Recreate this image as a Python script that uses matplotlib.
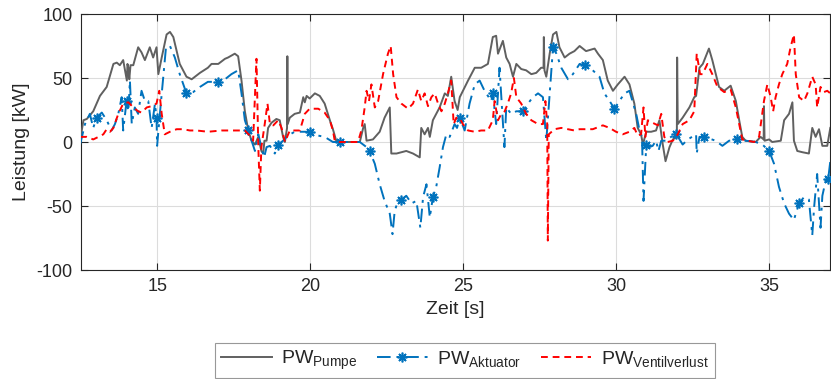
import numpy as np
import matplotlib
matplotlib.use("Agg")
import matplotlib.pyplot as plt

# ---------------- data ----------------
pumpe_t = [12.47, 12.58, 12.69, 12.90, 13.12, 13.34, 13.56, 13.67, 13.77, 13.88, 14.00, 14.02, 14.05, 14.08, 14.12,
           14.21, 14.37, 14.48, 14.59, 14.75, 14.86, 14.97, 15.03, 15.14, 15.30, 15.41, 15.52, 15.73, 15.95, 16.12,
           16.39, 16.65, 16.77, 16.99, 17.21, 17.31, 17.53, 17.64, 17.75, 17.86, 17.97, 18.08, 18.19, 18.30, 18.40,
           18.46, 18.50, 18.57, 18.62, 18.73, 18.89, 19.00, 19.11, 19.17, 19.24, 19.25, 19.26, 19.33, 19.49, 19.66,
           19.77, 19.82, 19.88, 19.98, 20.15, 20.31, 20.47, 20.64, 20.74, 20.86, 21.62, 21.73, 21.78, 21.84, 22.05,
           22.27, 22.43, 22.60, 22.65, 22.82, 23.14, 23.36, 23.58, 23.63, 23.74, 23.85, 23.91, 24.01, 24.23, 24.40,
           24.50, 24.61, 24.72, 24.82, 24.89, 25.16, 25.38, 25.59, 25.81, 25.97, 26.08, 26.14, 26.30, 26.41, 26.52,
           26.63, 26.74, 26.90, 27.06, 27.23, 27.39, 27.55, 27.63, 27.64, 27.66, 27.72, 27.83, 27.94, 28.05, 28.15,
           28.32, 28.48, 28.64, 28.81, 29.02, 29.30, 29.41, 29.57, 29.73, 29.90, 30.06, 30.28, 30.44, 30.60, 30.71,
           30.82, 30.88, 30.99, 31.15, 31.31, 31.42, 31.53, 31.62, 31.75, 31.86, 31.99, 32.00, 32.02, 32.18, 32.40,
           32.56, 32.62, 32.73, 32.84, 33.04, 33.15, 33.37, 33.54, 33.75, 33.92, 34.03, 34.13, 34.24, 34.57, 34.73,
           34.83, 34.84, 34.86, 35.01, 35.11, 35.39, 35.50, 35.66, 35.77, 35.82, 35.93, 36.10, 36.31, 36.42, 36.53,
           36.64, 36.75, 36.91, 37.01]
pumpe_p = [1, 17, 18, 24, 36, 43, 61, 62, 60, 64, 48, 61, 58, 49, 60,
           60, 74, 70, 64, 74, 66, 74, 53, 66, 84, 86, 82, 61, 51, 49,
           54, 58, 61, 61, 65, 66, 69, 67, 48, 24, 9, 1, -2, 4, -7,
           -9, 1, 1, 11, 15, 18, 17, 4, 0, 11, 67, 14, 19, 22, 23,
           35, 31, 36, 34, 38, 36, 30, 17, 10, 0, 0, 11, 14, 1, 2,
           8, 19, 27, -9, -9, -7, -9, -12, 11, 6, 11, 4, 17, 27, 38,
           36, 51, 32, 25, 35, 48, 58, 58, 61, 82, 83, 69, 79, 66, 61,
           51, 61, 57, 56, 53, 54, 58, 58, 82, 56, 51, 69, 84, 86, 74,
           66, 69, 71, 75, 71, 73, 69, 64, 48, 40, 45, 51, 45, 30, 11,
           6, -2, 8, 8, 9, 17, -2, -15, -4, 2, 4, 66, 14, 19, 27,
           35, 36, 58, 61, 73, 64, 43, 40, 44, 32, 17, 4, 1, 0, 4,
           2, 28, 1, 2, 0, 1, 17, 22, 31, 1, -7, -8, -9, 11, 4,
           10, -3, -3, 11]

aktuator_t = [12.47, 12.63, 12.79, 12.90, 13.01, 13.18, 13.34, 13.50, 13.61, 13.72, 13.83, 13.88, 13.99, 14.05, 14.10,
              14.16, 14.26, 14.37, 14.48, 14.59, 14.70, 14.81, 14.92, 14.97, 14.99, 15.08, 15.19, 15.28, 15.41, 15.57,
              15.73, 15.95, 16.17, 16.39, 16.65, 16.99, 17.21, 17.42, 17.64, 17.75, 17.86, 17.97, 18.08, 18.19, 18.30,
              18.40, 18.49, 18.57, 18.68, 18.84, 18.95, 19.11, 19.27, 19.49, 19.71, 19.98, 20.26, 20.47, 20.74, 20.96,
              21.29, 21.62, 21.84, 21.94, 22.11, 22.27, 22.43, 22.60, 22.69, 22.76, 22.87, 22.98, 23.14, 23.31, 23.47,
              23.60, 23.69, 23.80, 23.91, 24.01, 24.12, 24.23, 24.34, 24.45, 24.56, 24.72, 24.80, 24.89, 25.05, 25.21,
              25.38, 25.54, 25.70, 25.92, 25.97, 26.08, 26.19, 26.35, 26.41, 26.57, 26.74, 26.96, 27.12, 27.28, 27.45,
              27.61, 27.72, 27.83, 27.94, 28.05, 28.21, 28.43, 28.59, 28.81, 28.97, 29.24, 29.46, 29.62, 29.79, 29.95,
              30.11, 30.28, 30.44, 30.55, 30.66, 30.77, 30.85, 30.90, 30.99, 31.09, 31.20, 31.31, 31.39, 31.48, 31.64,
              31.80, 31.97, 32.08, 32.18, 32.35, 32.62, 32.64, 32.73, 32.89, 33.26, 33.48, 33.70, 33.97, 34.24, 34.57,
              34.79, 35.01, 35.17, 35.33, 35.50, 35.66, 35.82, 35.88, 35.99, 36.15, 36.31, 36.42, 36.48, 36.58, 36.69,
              36.75, 36.86, 36.94, 37.01]
aktuator_p = [-2, 14, 22, 11, 19, 23, 17, 9, 14, 22, 35, 9, 32, 24, 48,
              14, 27, 22, 40, 32, 32, 11, 30, 19, -3, 22, 51, 74, 75, 66,
              53, 38, 39, 43, 47, 47, 49, 53, 56, 38, 17, 9, 1, -7, 6,
              -4, -12, -4, -3, -9, -2, 1, 5, 8, 8, 8, 5, 4, 0, 0,
              0, 0, -4, -7, -17, -33, -46, -56, -72, -54, -46, -45, -42, -48, -46,
              -67, -43, -33, -59, -43, -35, -20, -4, 6, 4, 14, 11, 19, 9, 30,
              45, 48, 40, 32, 38, 14, 58, -4, 27, 22, 24, 24, 30, 35, 38,
              35, 1, 38, 74, 69, 58, 49, 53, 61, 60, 56, 51, 38, 32, 26,
              32, 38, 40, 31, 22, 9, 4, -46, -2, -4, -3, 1, -7, 1, 1,
              4, 6, 2, -2, 2, 6, -9, 4, 4, 1, -3, 1, 2, 1, 0,
              -2, -7, -17, -35, -48, -56, -61, -56, -48, -43, -45, -73, -51, -25, -67,
              -42, -30, -29, -15]
aktuator_marker_t = [13, 14, 15, 16, 17, 18, 19, 20, 21, 22, 23, 24, 25, 26, 27, 28, 29, 30, 31, 32, 33, 34, 35, 36, 37]

ventil_t = [12.47, 12.69, 12.90, 13.07, 13.23, 13.34, 13.45, 13.56, 13.72, 13.88, 14.05, 14.21, 14.37, 14.48, 14.65,
            14.81, 14.97, 15.06, 15.14, 15.24, 15.41, 15.63, 15.84, 16.06, 16.28, 16.65, 17.10, 17.64, 17.86, 18.02,
            18.13, 18.24, 18.30, 18.35, 18.40, 18.51, 18.60, 18.68, 18.79, 18.95, 19.06, 19.17, 19.33, 19.49, 19.66,
            19.82, 19.98, 20.26, 20.47, 20.64, 20.74, 20.80, 20.96, 21.29, 21.56, 21.67, 21.78, 21.84, 21.92, 22.00,
            22.11, 22.22, 22.38, 22.54, 22.63, 22.71, 22.82, 22.98, 23.20, 23.36, 23.52, 23.63, 23.74, 23.85, 23.96,
            24.07, 24.18, 24.29, 24.40, 24.50, 24.61, 24.69, 24.78, 24.88, 24.99, 25.16, 25.38, 25.59, 25.81, 25.97,
            26.03, 26.14, 26.25, 26.36, 26.46, 26.57, 26.66, 26.74, 26.90, 27.06, 27.23, 27.45, 27.61, 27.69, 27.75,
            27.77, 27.80, 27.99, 28.21, 28.43, 28.64, 28.81, 29.24, 29.57, 29.79, 30.00, 30.22, 30.44, 30.60, 30.71,
            30.82, 30.90, 30.96, 31.04, 31.20, 31.37, 31.48, 31.58, 31.69, 31.86, 32.02, 32.18, 32.40, 32.56, 32.64,
            32.75, 32.83, 32.99, 33.15, 33.32, 33.54, 33.75, 33.92, 34.03, 34.13, 34.30, 34.52, 34.68, 34.84, 34.95,
            35.06, 35.14, 35.22, 35.33, 35.44, 35.60, 35.71, 35.82, 35.88, 35.99, 36.15, 36.26, 36.42, 36.53, 36.58,
            36.69, 36.80, 36.91, 37.01]
ventil_p = [4, 4, 2, 4, 6, 10, 8, 11, 22, 30, 31, 27, 24, 23, 27,
            28, 30, 40, 22, 6, 8, 10, 10, 9, 9, 8, 9, 9, 9, 5,
            1, 65, -4, -38, -4, 14, 30, 14, 13, 17, 11, 0, 9, 9, 9,
            22, 26, 26, 23, 17, 9, 1, 0, 0, 0, 9, 27, 40, 32, 45,
            27, 32, 53, 69, 75, 53, 35, 30, 26, 30, 41, 32, 38, 28, 35,
            38, 30, 24, 30, 38, 48, 14, 19, 19, 14, 9, 8, 9, 9, 17,
            32, 17, 22, 24, 30, 38, 50, 35, 30, 22, 17, 14, 14, 32, 14,
            -77, 6, 10, 11, 10, 9, 10, 10, 13, 11, 8, 6, 8, 11, 5,
            6, 27, 4, 17, 15, 13, 22, 4, 0, 1, 6, 14, 17, 24, 69,
            53, 53, 61, 53, 43, 39, 41, 27, 14, 2, 1, 0, 4, 32, 45,
            35, 24, 35, 45, 53, 61, 74, 84, 53, 35, 32, 38, 51, 45, 27,
            43, 39, 40, 38]

x_ticks = [15, 20, 25, 30, 35]
y_ticks = [-100, -50, 0, 50, 100]
labels = [r'PW$_{\mathrm{Pumpe}}$', r'PW$_{\mathrm{Aktuator}}$', r'PW$_{\mathrm{Ventilverlust}}$']

# ---------------- style ----------------
plt.rcParams['font.family'] = ['Liberation Sans', 'DejaVu Sans']
plt.rcParams['mathtext.fontset'] = 'custom'
plt.rcParams['mathtext.rm'] = 'Liberation Sans'
plt.rcParams['mathtext.it'] = 'Liberation Sans'
plt.rcParams['mathtext.bf'] = 'Liberation Sans'
plt.rcParams['axes.unicode_minus'] = False

txt = '#262626'
fig = plt.figure(figsize=(8.31, 3.79), dpi=100)
ax = fig.add_axes([81/831, 1-270/379, (830-81)/831, (270-14)/379])

ax.plot(pumpe_t, pumpe_p, color='#606060', lw=1.4, label=labels[0], zorder=3)
at = np.array(aktuator_t)
mk_idx = sorted(set(int(np.argmin(np.abs(at - (m - 0.03)))) for m in aktuator_marker_t))
ax.plot(aktuator_t, aktuator_p, color='#0072BD', lw=1.4, ls=(0, (7, 3, 1.5, 3)),
        marker=(8, 2, 0), markersize=7, markeredgewidth=1.2, markevery=mk_idx,
        label=labels[1], zorder=4)
ax.plot(ventil_t, ventil_p, color='#FF0000', lw=1.4, ls=(0, (3.5, 2.5)), label=labels[2], zorder=5)

ax.set_xlim(12.5, 37)
ax.set_ylim(-100, 100)
ax.set_xticks(x_ticks)
ax.set_yticks(y_ticks)
ax.grid(True, color='#dcdcdc', lw=0.8)
ax.set_axisbelow(True)
for s in ax.spines.values():
    s.set_color(txt)
    s.set_linewidth(0.8)
ax.tick_params(direction='in', length=5, width=0.8, colors=txt, labelsize=13,
               top=True, right=True, labelcolor=txt, pad=6)
ax.set_xlabel('Zeit [s]', fontsize=14, color=txt, labelpad=4)
ax.set_ylabel('Leistung [kW]', fontsize=14, color=txt, labelpad=5)

leg = fig.legend(loc='upper center', bbox_to_anchor=(465/831, 1-343/379), ncol=3,
                 fontsize=14, frameon=True, fancybox=False, edgecolor='#7f7f7f',
                 handlelength=2.6, columnspacing=1.0, borderpad=0.3, handletextpad=0.5,
                 borderaxespad=0)
leg.get_frame().set_linewidth(0.8)
for t in leg.get_texts():
    t.set_color(txt)

fig.savefig('out.png', dpi=100)
